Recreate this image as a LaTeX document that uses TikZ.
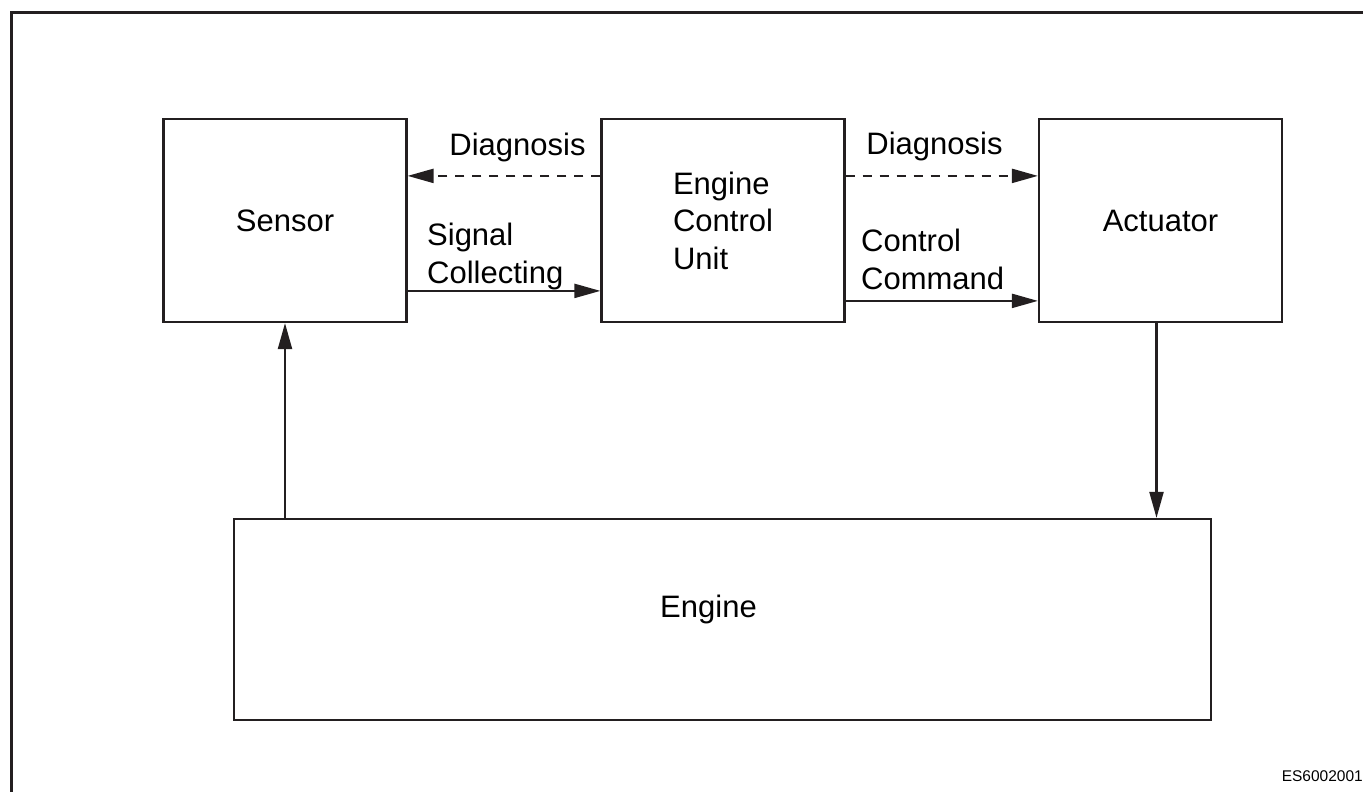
\documentclass[tikz,border=0pt]{standalone}
\usepackage{fontspec}
\setmainfont{Liberation Sans}
\usetikzlibrary{arrows.meta}
\definecolor{inkcol}{HTML}{231F20}

\begin{document}
\begin{tikzpicture}[x=1pt, y=-1pt,
    box/.style={draw=inkcol, line width=2.2pt, minimum width=243pt, minimum height=203pt,
        inner sep=0pt, font=\fontsize{31}{37.5}\selectfont, align=left},
    lbl/.style={inner sep=0pt, font=\fontsize{31}{37.5}\selectfont, align=left},
    flow/.style={draw=inkcol, line width=2.2pt, -{Triangle[length=26pt, width=14pt]}},
    diag/.style={flow, dash pattern=on 9pt off 8pt}]
    \useasboundingbox (0,0) rectangle (1363,792);

    % Frame
    \draw[inkcol, line width=3pt] (1363,12.5) -- (11.5,12.5) -- (11.5,792);

    % Blocks
    \node[box] (sensor) at (285,220.5) {Sensor};
    \node[box] (ecu) at (723,220.5) {Engine\\Control\\Unit};
    \node[box] (actuator) at (1160.5,220.5) {Actuator};
    \node[box, minimum width=977pt, minimum height=201pt,
        label={[lbl, xshift=-14pt, yshift=10pt]center:Engine}] (engine) at (722.5,619.5) {};

    % Signals between blocks
    \draw[diag] ([yshift=-58pt]ecu.north west) -- ([yshift=-58pt]sensor.north east);
    \draw[flow] ([yshift=-173pt]sensor.north east) -- ([yshift=-173pt]ecu.north west);
    \draw[diag] ([yshift=-58pt]ecu.north east) -- ([yshift=-58pt]actuator.north west);
    \draw[flow] ([yshift=-183pt]ecu.north east) -- ([yshift=-183pt]actuator.north west);
    \draw[flow] (engine.north -| sensor.south) -- (sensor.south);
    \draw[flow] ([xshift=-4pt]actuator.south) -- ([xshift=-4pt]actuator.south |- engine.north);

    % Labels
    \node[lbl, anchor=base] (diagleft) at (517.5,155) {Diagnosis};
    \node[lbl, anchor=base] (diagright) at (934.5,154) {Diagnosis};
    \node[lbl, anchor=base west] (sigcol) at (427,283) {Signal\\Collecting};
    \node[lbl, anchor=base west] (ctrlcmd) at (861,289) {Control\\Command};
    \node[inner sep=0pt, anchor=base east, font=\fontsize{15.5}{18}\selectfont] (code) at (1363,781) {ES6002001};
\end{tikzpicture}
\end{document}
